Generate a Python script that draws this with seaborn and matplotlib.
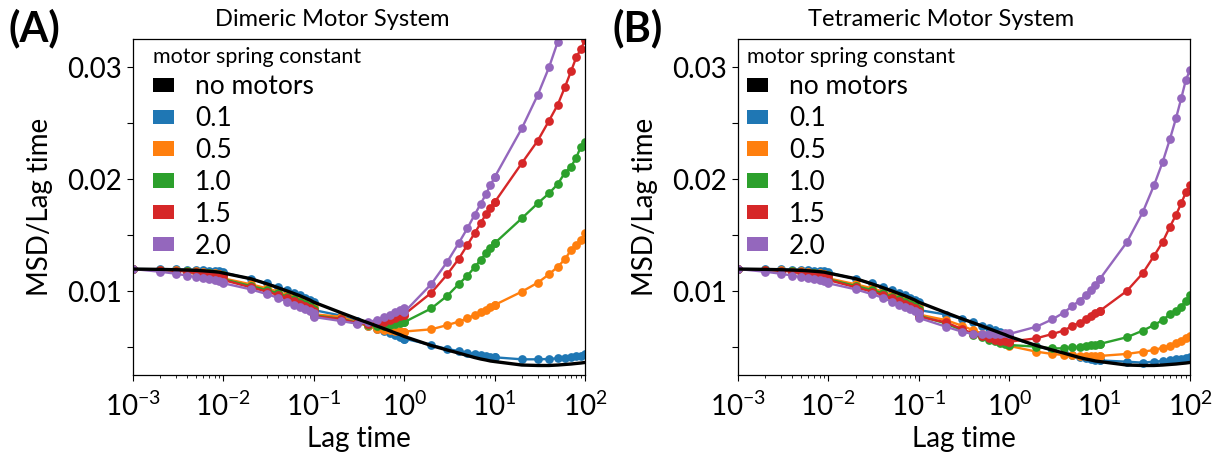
import matplotlib
matplotlib.use("Agg")
import matplotlib.pyplot as plt
import numpy as np
import pandas as pd
import seaborn as sns
from matplotlib.patches import Patch
from matplotlib.ticker import MultipleLocator

# ---------------- data ----------------
# lag times: five decades, each sampled at 1..10 x 10^k (decade ends repeated)
LAG = [0.001, 0.002, 0.003, 0.004, 0.005, 0.006, 0.007, 0.008, 0.009, 0.01,
       0.01, 0.02, 0.03, 0.04, 0.05, 0.06, 0.07, 0.08, 0.09, 0.1,
       0.1, 0.2, 0.3, 0.4, 0.5, 0.6, 0.7, 0.8, 0.9, 1.0,
       1.0, 2.0, 3.0, 4.0, 5.0, 6.0, 7.0, 8.0, 9.0, 10.0,
       10.0, 20.0, 30.0, 40.0, 50.0, 60.0, 70.0, 80.0, 90.0, 100.0]

NOMOTOR_LAG = [0.001, 0.002, 0.003, 0.004, 0.005, 0.006, 0.007, 0.008, 0.009,
               0.01, 0.02, 0.03, 0.04, 0.05, 0.06, 0.07, 0.08, 0.09,
               0.1, 0.2, 0.3, 0.4, 0.5, 0.6, 0.7, 0.8, 0.9,
               1.0, 2.0, 3.0, 4.0, 5.0, 6.0, 7.0, 8.0, 9.0,
               10.0, 20.0, 30.0, 40.0, 50.0, 60.0, 70.0, 80.0, 90.0, 100.0]
NOMOTOR = [0.01196, 0.01193, 0.01190, 0.01187, 0.01184, 0.01180, 0.01176, 0.01172, 0.01168,
           0.01160, 0.01110, 0.01065, 0.01030, 0.01002, 0.00978, 0.00958, 0.00938, 0.00920,
           0.00900, 0.00806, 0.00752, 0.00716, 0.00687, 0.00663, 0.00643, 0.00625, 0.00610,
           0.00594, 0.00513, 0.00473, 0.00446, 0.00424, 0.00406, 0.00393, 0.00384, 0.00375,
           0.00370, 0.00339, 0.00335, 0.00335, 0.00339, 0.00344, 0.00348, 0.00353, 0.00357, 0.00362]

SPRING = ["0.1", "0.5", "1.0", "1.5", "2.0"]
COLORS = ["#1f77b4", "#ff7f0e", "#2ca02c", "#d62728", "#9467bd"]

# Dimeric motor system
DIM_01 = [0.01196, 0.01194, 0.01192, 0.0119, 0.01188, 0.01185, 0.01182, 0.01179, 0.01175, 0.01172,
          0.01165, 0.01107, 0.01068, 0.01035, 0.01005, 0.0098, 0.0096, 0.0094, 0.00922, 0.00905,
          0.0083, 0.0078, 0.0073, 0.0069, 0.00665, 0.00645, 0.00625, 0.00607, 0.0059, 0.00575,
          0.00575, 0.00518, 0.00482, 0.00464, 0.00449, 0.00438, 0.00429, 0.0042, 0.00414, 0.00408,
          0.00408, 0.0039, 0.0039, 0.00393, 0.00399, 0.00405, 0.0041, 0.00417, 0.00424, 0.00435]
DIM_05 = [0.01196, 0.01191, 0.01186, 0.01181, 0.01176, 0.0117, 0.01164, 0.01158, 0.01152, 0.01145,
          0.01113, 0.0106, 0.01025, 0.00995, 0.00965, 0.00942, 0.00922, 0.00902, 0.00882, 0.0086,
          0.00792, 0.0077, 0.0072, 0.00685, 0.00662, 0.00652, 0.00648, 0.00645, 0.00642, 0.00638,
          0.00638, 0.00658, 0.00696, 0.00726, 0.00756, 0.00786, 0.0081, 0.0083, 0.00854, 0.00875,
          0.00875, 0.00994, 0.01074, 0.01149, 0.01217, 0.01283, 0.01366, 0.01411, 0.01455, 0.01521]
DIM_10 = [0.01196, 0.0119, 0.01183, 0.01177, 0.01171, 0.01165, 0.01159, 0.01152, 0.01146, 0.0114,
          0.01105, 0.01045, 0.0101, 0.0098, 0.0095, 0.00925, 0.00902, 0.00882, 0.00862, 0.0084,
          0.00782, 0.00752, 0.00716, 0.00695, 0.00688, 0.0069, 0.00698, 0.00708, 0.00716, 0.00724,
          0.00722, 0.00845, 0.00958, 0.0106, 0.01137, 0.01211, 0.01277, 0.01336, 0.01381, 0.01426,
          0.01426, 0.01649, 0.01783, 0.01872, 0.01955, 0.02057, 0.0211, 0.0219, 0.02289, 0.02333]
DIM_15 = [0.01196, 0.01188, 0.0118, 0.01173, 0.01166, 0.01159, 0.01152, 0.01146, 0.0114, 0.01134,
          0.01098, 0.01033, 0.00995, 0.00965, 0.00935, 0.0091, 0.00888, 0.00866, 0.00845, 0.00824,
          0.00775, 0.0075, 0.00712, 0.00705, 0.00712, 0.00725, 0.00738, 0.00756, 0.00775, 0.0079,
          0.0079, 0.00985, 0.01149, 0.01286, 0.01411, 0.01515, 0.01604, 0.01685, 0.01744, 0.01792,
          0.01792, 0.02141, 0.02342, 0.0252, 0.02664, 0.02821, 0.02961, 0.03086, 0.0316, 0.0324]
DIM_20 = [0.01196, 0.01172, 0.01154, 0.01137, 0.01125, 0.01113, 0.01104, 0.01096, 0.01089, 0.01083,
          0.01069, 0.01015, 0.00973, 0.0094, 0.00905, 0.00878, 0.00856, 0.00838, 0.00818, 0.008,
          0.00768, 0.00732, 0.00708, 0.0072, 0.00744, 0.00764, 0.00788, 0.00812, 0.00833, 0.00848,
          0.0081, 0.01063, 0.01262, 0.01426, 0.0156, 0.01679, 0.01777, 0.01863, 0.01946, 0.02015,
          0.02015, 0.02452, 0.0275, 0.02997, 0.03226, 0.0345, 0.0365, 0.0383, 0.04, 0.0415]

# Tetrameric motor system
TET_01 = [0.01196, 0.01194, 0.01192, 0.0119, 0.01188, 0.01185, 0.01182, 0.01179, 0.01175, 0.01172,
          0.01165, 0.01107, 0.01068, 0.01035, 0.01005, 0.0098, 0.0096, 0.0094, 0.00922, 0.00905,
          0.0083, 0.0079, 0.0075, 0.0072, 0.0069, 0.0067, 0.0065, 0.0063, 0.0061, 0.006,
          0.0059, 0.0051, 0.0047, 0.00445, 0.00425, 0.0041, 0.004, 0.00392, 0.00386, 0.0038,
          0.0038, 0.00369, 0.0036, 0.00369, 0.00375, 0.00384, 0.0039, 0.00396, 0.00402, 0.00413]
TET_05 = [0.01196, 0.01191, 0.01186, 0.01181, 0.01176, 0.0117, 0.01164, 0.01158, 0.01152, 0.01145,
          0.01113, 0.0106, 0.01025, 0.00995, 0.00965, 0.00942, 0.00922, 0.00902, 0.00882, 0.0086,
          0.0079, 0.0074, 0.0069, 0.0065, 0.0062, 0.006, 0.0058, 0.0056, 0.0054, 0.0052,
          0.0051, 0.00458, 0.00438, 0.00429, 0.00429, 0.0042, 0.0042, 0.0042, 0.0042, 0.0042,
          0.0042, 0.00438, 0.00458, 0.00473, 0.00494, 0.00509, 0.00533, 0.00556, 0.00578, 0.00598]
TET_10 = [0.01196, 0.0119, 0.01183, 0.01177, 0.01171, 0.01165, 0.01159, 0.01152, 0.01146, 0.0114,
          0.01105, 0.01045, 0.0101, 0.0098, 0.0095, 0.00925, 0.00902, 0.00882, 0.00862, 0.0084,
          0.0078, 0.0071, 0.0065, 0.0061, 0.00585, 0.00565, 0.0055, 0.0054, 0.00528, 0.00518,
          0.00518, 0.00503, 0.00488, 0.00488, 0.00497, 0.00503, 0.00509, 0.00515, 0.00521, 0.00527,
          0.00527, 0.00587, 0.00646, 0.00696, 0.00741, 0.00792, 0.00824, 0.0086, 0.00913, 0.00964]
TET_15 = [0.01196, 0.01188, 0.0118, 0.01173, 0.01166, 0.01159, 0.01152, 0.01146, 0.0114, 0.01134,
          0.01098, 0.01033, 0.00995, 0.00965, 0.00935, 0.0091, 0.00888, 0.00866, 0.00845, 0.00824,
          0.0077, 0.0072, 0.0066, 0.0062, 0.006, 0.0058, 0.00565, 0.00555, 0.0055, 0.00547,
          0.00547, 0.00578, 0.00616, 0.00646, 0.00688, 0.00717, 0.00747, 0.00777, 0.00801, 0.00821,
          0.00821, 0.01, 0.01158, 0.01313, 0.0144, 0.01574, 0.01679, 0.01783, 0.01881, 0.01946]
TET_20 = [0.01196, 0.01172, 0.01154, 0.01137, 0.01125, 0.01113, 0.01104, 0.01096, 0.01089, 0.01083,
          0.01069, 0.01015, 0.00973, 0.0094, 0.00905, 0.00878, 0.00856, 0.00838, 0.00818, 0.008,
          0.0076, 0.00681, 0.00637, 0.00616, 0.00613, 0.00613, 0.00616, 0.00619, 0.00622, 0.00622,
          0.00616, 0.00681, 0.00747, 0.00806, 0.00866, 0.00914, 0.00964, 0.01009, 0.01054, 0.01104,
          0.01104, 0.01435, 0.01703, 0.01944, 0.02155, 0.02357, 0.02542, 0.0272, 0.02884, 0.02973]

PANELS = [
    ("(A)", "Dimeric Motor System", [DIM_01, DIM_05, DIM_10, DIM_15, DIM_20]),
    ("(B)", "Tetrameric Motor System", [TET_01, TET_05, TET_10, TET_15, TET_20]),
]

# ---------------- style ----------------
sns.set_theme(style="ticks")
plt.rcParams["font.family"] = ["Lato", "DejaVu Sans"]
plt.rcParams["mathtext.fontset"] = "custom"
plt.rcParams["mathtext.rm"] = "Lato"
for key in ["text.color", "axes.labelcolor", "xtick.color", "ytick.color", "axes.edgecolor"]:
    plt.rcParams[key] = "black"

W, H = 1231, 461
fig = plt.figure(figsize=(W / 100, H / 100), dpi=100)

ax_lefts = [133, 738]
legend_x = [0.044, 0.019]
title_x = [0.44, 0.45]
label_x = [8, 613]

for i, (tag, title, series) in enumerate(PANELS):
    ax = fig.add_axes([ax_lefts[i] / W, 1 - 375 / H, 452 / W, 336 / H])
    df = pd.DataFrame({
        "lag": LAG * len(SPRING),
        "msd": sum(series, []),
        "k": [s for s in SPRING for _ in LAG],
    })
    sns.lineplot(data=df, x="lag", y="msd", hue="k", palette=COLORS,
                 hue_order=SPRING, estimator=None, sort=False, marker="o",
                 markersize=6.3, markeredgewidth=0, linewidth=1.7,
                 legend=False, ax=ax)
    sns.lineplot(x=NOMOTOR_LAG, y=NOMOTOR, color="black", linewidth=2.4,
                 estimator=None, sort=False, ax=ax, zorder=5)

    ax.set_xscale("log")
    ax.set_xlim(1e-3, 1e2)
    ax.set_ylim(0.0025, 0.0325)
    ax.yaxis.set_major_locator(MultipleLocator(0.01))
    ax.yaxis.set_minor_locator(MultipleLocator(0.005))
    ax.tick_params(axis="both", which="major", labelsize=20, length=4, width=0.8,
                   direction="out")
    ax.tick_params(axis="x", which="major", pad=8)
    ax.tick_params(axis="y", which="major", pad=4)
    ax.tick_params(axis="x", which="minor", length=2.5, width=0.6, direction="out")
    ax.tick_params(axis="y", which="minor", length=4, width=0.8, direction="out")
    for sp in ax.spines.values():
        sp.set_visible(True)
        sp.set_linewidth(0.9)
        sp.set_color("black")
    ax.set_xlabel("Lag time", fontsize=20, labelpad=4)
    ax.set_ylabel("MSD/Lag time", fontsize=20, labelpad=10)
    ax.set_title(title, fontsize=17, x=title_x[i], pad=9)

    handles = [Patch(facecolor="black", edgecolor="none", label="no motors")]
    handles += [Patch(facecolor=c, edgecolor="none", label=s) for c, s in zip(COLORS, SPRING)]
    ax.legend(handles=handles, title="motor spring constant", loc="upper left",
              bbox_to_anchor=(legend_x[i], 0.975), frameon=False, fontsize=19,
              title_fontsize=15.5, handlelength=0.8, handleheight=0.45,
              handletextpad=0.8, labelspacing=0.26, borderaxespad=0, borderpad=0,
              alignment="left")

    fig.text(label_x[i] / W, 1 - 9 / H, tag, fontsize=30, fontweight="bold",
             ha="left", va="top")

fig.savefig("out.png", dpi=100)
